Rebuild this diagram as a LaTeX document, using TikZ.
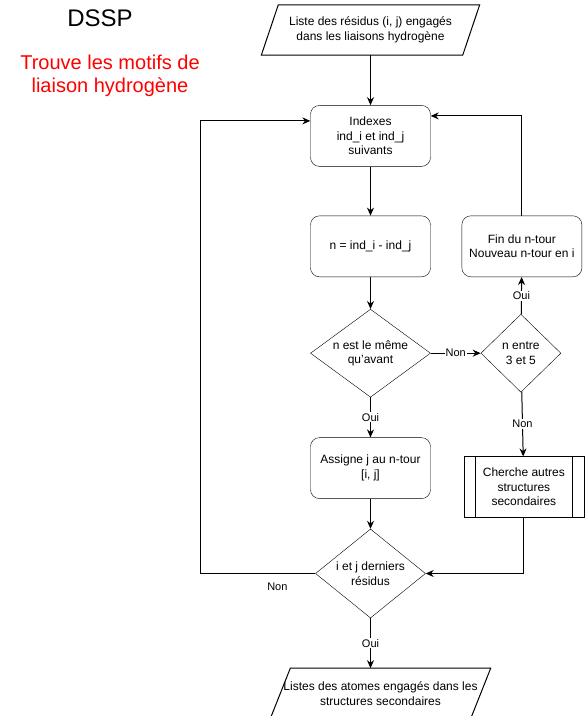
\documentclass[tikz,border=0pt]{standalone}
\usepackage{fontspec}
\setmainfont{Liberation Sans}
\usetikzlibrary{arrows.meta,positioning,calc,shapes.geometric}

\begin{document}
\begin{tikzpicture}[
  x=1pt,y=-1pt,
  font=\fontsize{12}{14.5}\selectfont,
  node distance=50pt,
  box/.style={draw,rounded corners=9pt,align=center,inner sep=2pt,
    minimum height=61pt,minimum width=120pt,fill=white},
  choice/.style={draw,diamond,align=center,inner sep=0pt,fill=white},
  io/.style={align=center,inner sep=1pt,minimum height=50pt},
  lab/.style={fill=white,inner sep=1pt,font=\fontsize{11}{13}\selectfont},
  flow/.style={-{Stealth[length=8pt,width=7pt]},line width=1pt}
]
\useasboundingbox (0,0) rectangle (585,716);
\node[font=\fontsize{24}{28}\selectfont] (title) at (100,18) {DSSP};
\node[red,align=center,font=\fontsize{20}{23}\selectfont] (sub) at (110,76)
  {Trouve les motifs de\\liaison hydrogène};

\node[io,minimum width=201pt] (liste) at (370.5,30)
  {Liste des résidus (i, j) engagés\\dans les liaisons hydrogène};
\draw[line width=1pt] ([xshift=-8.5pt]liste.south west) -- ([xshift=8.5pt]liste.north west)
  -- ([xshift=8.5pt]liste.north east) -- ([xshift=-8.5pt]liste.south east) -- cycle;
\node[box,below=50pt of liste] (idx) {Indexes\\ind\_i et ind\_j\\suivants};
\node[box,below=49pt of idx] (ncalc) {n = ind\_i - ind\_j};
\node[choice,below=32pt of ncalc,minimum width=120pt,minimum height=88pt,aspect=1.36]
  (meme) {n est le même\\qu'avant};
\node[box,below=40pt of meme] (assign) {Assigne j au n-tour\\{}[i, j]};
\node[choice,below=30pt of assign,minimum width=110pt,minimum height=89pt,aspect=1.24]
  (fin) {i et j derniers\\résidus};
\node[io,minimum width=200pt,below=50pt of fin,xshift=10pt]
  (atomes) {Listes des atomes engagés dans les\\structures secondaires};
\draw[line width=1pt] ([xshift=-10pt]atomes.south west) -- ([xshift=10pt]atomes.north west)
  -- ([xshift=10pt]atomes.north east) -- ([xshift=-10pt]atomes.south east) -- cycle;

\node[choice,right=50pt of meme,minimum width=80pt,minimum height=78pt,aspect=1]
  (entre) {n entre\\3 et 5};
\node[box,right=31pt of ncalc] (ntour) {Fin du n-tour\\Nouveau n-tour en i};
\node[draw,align=center,minimum width=120pt,minimum height=61pt,below=64pt of entre,
  xshift=3pt] (autres) {Cherche autres\\structures\\secondaires};
\draw[line width=1pt] ($(autres.north west)+(12pt,0)$) -- ($(autres.south west)+(12pt,0)$);
\draw[line width=1pt] ($(autres.north east)-(12pt,0)$) -- ($(autres.south east)-(12pt,0)$);

\draw[flow] (liste) -- (idx);
\draw[flow] (idx) -- (ncalc);
\draw[flow] (ncalc) -- (meme);
\draw[flow] (meme) -- node[lab] {Oui} (assign);
\draw[flow] (meme) -- node[lab] {Non} (entre);
\draw[flow] (entre) -- node[lab] {Oui} (ntour);
\draw[flow] (entre) -- node[lab] {Non} (autres);
\draw[flow] (ntour.north) |- ([yshift=20pt]idx.east);
\draw[flow] (assign) -- (fin);
\draw[flow] (autres.south) |- (fin.east);
\draw[flow] (fin.west) -- node[pos=.33,below=6pt,font=\fontsize{11}{13}\selectfont] {Non}
  ++(-115pt,0) |- ([yshift=15pt]idx.west);
\draw[flow] (fin.south) -- node[lab] {Oui} (fin.south |- atomes.north);
\end{tikzpicture}
\end{document}
